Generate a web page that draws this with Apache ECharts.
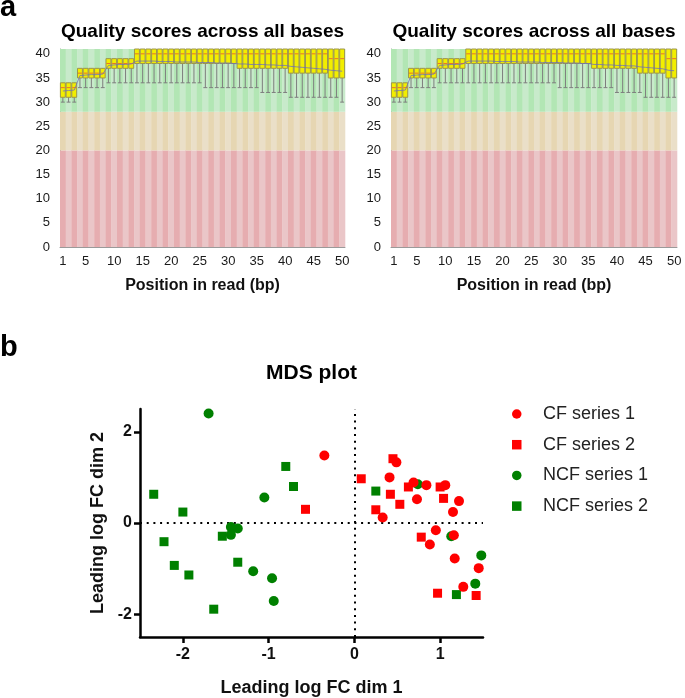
<!DOCTYPE html>
<html><head><meta charset="utf-8">
<script src="https://cdn.jsdelivr.net/npm/echarts@6/dist/echarts.min.js"></script>
<style>html,body{margin:0;padding:0;background:#fff}#c{width:685px;height:698px}</style>
</head><body><div id="c"></div>
<script>
// ---------- panel a: per-base quality (FastQC style) ----------
const positions = ['1','2','3','4','5','6','7','8','9','10','11','12','13','14','15','16','17','18','19','20',
  '21','22','23','24','25','26','27','28','29','30','31','32','33','34','35','36','37','38','39','40',
  '41','42','43','44','45','46','47','48','49','50'];
const posTickLabels = ['1','5','10','15','20','25','30','35','40','45','50'];
const qualityTicks = [0,5,10,15,20,25,30,35,40];
const zoneBounds = [0, 20, 28, 41];   // poor / reasonable / good

// left sample
const lowA  = [30,30,30,33,33,33,33,33,34,34, 34,34,34,34,34,34,34,34,34,34, 34,34,34,34,34,33,33,33,33,33, 33,33,33,33,33,32,32,32,32,32, 31,31,31,31,31,31,31,31,31,30];
const q1A   = [31,31,31,35,35,35,35,35,37,37, 37,37,37,38,38,38,38,38,38,38, 38,38,38,38,38,38,38,38,38,38, 38,37,37,37,37,37,37,37,37,37, 36,36,36,36,36,36,36,35,35,35];
const medA  = [33,33,33,36,36,36,36,36,38,38, 38,38,38,40,40,40,40,40,40,40, 40,40,40,40,40,40,40,40,40,40, 40,40,40,40,40,40,40,40,40,40, 40,40,40,40,40,40,40,39,39,39];
const q3A   = [34,34,34,37,37,37,37,37,39,39, 39,39,39,41,41,41,41,41,41,41, 41,41,41,41,41,41,41,41,41,41, 41,41,41,41,41,41,41,41,41,41, 41,41,41,41,41,41,41,41,41,41];
const highA = [34,34,34,37,37,37,37,37,39,39, 39,39,39,41,41,41,41,41,41,41, 41,41,41,41,41,41,41,41,41,41, 41,41,41,41,41,41,41,41,41,41, 41,41,41,41,41,41,41,41,41,41];
const meanA = [32.3,32.4,32.5,35.5,35.6,35.7,35.7,35.8,37.6,37.7, 37.8,37.8,37.9,38.5,38.5,38.5,38.5,38.4,38.4,38.4,
  38.3,38.3,38.3,38.3,38.2,38.2,38.2,38.1,38.1,38.1, 38.0,37.9,37.9,37.8,37.8,37.8,37.7,37.7,37.6,37.6,
  37.4,37.3,37.2,37.1,37.0,36.9,36.8,36.6,36.5,36.4];

// right sample
const lowB  = [30,30,30,33,33,33,33,33,34,34, 34,34,34,34,34,34,34,34,34,34, 34,34,34,34,34,34,34,34,34,33, 33,33,33,33,33,33,33,33,33,32, 32,32,32,32,31,31,31,31,31,31];
const q1B   = [31,31,31,35,35,35,35,35,37,37, 37,37,37,38,38,38,38,38,38,38, 38,38,38,38,38,38,38,38,38,38, 38,38,38,38,38,37,37,37,37,37, 37,37,37,36,36,36,36,36,35,35];
const medB  = [33,33,33,36,36,36,36,36,38,38, 38,38,38,40,40,40,40,40,40,40, 40,40,40,40,40,40,40,40,40,40, 40,40,40,40,40,40,40,40,40,40, 40,40,40,40,40,40,40,40,39,39];
const q3B   = [34,34,34,37,37,37,37,37,39,39, 39,39,39,41,41,41,41,41,41,41, 41,41,41,41,41,41,41,41,41,41, 41,41,41,41,41,41,41,41,41,41, 41,41,41,41,41,41,41,41,41,41];
const highB = [34,34,34,37,37,37,37,37,39,39, 39,39,39,41,41,41,41,41,41,41, 41,41,41,41,41,41,41,41,41,41, 41,41,41,41,41,41,41,41,41,41, 41,41,41,41,41,41,41,41,41,41];
const meanB = [32.3,32.4,32.5,35.5,35.6,35.7,35.7,35.8,37.6,37.7, 37.8,37.8,37.9,38.5,38.5,38.5,38.5,38.5,38.4,38.4,
  38.4,38.4,38.3,38.3,38.3,38.3,38.2,38.2,38.2,38.2, 38.1,38.1,38.1,38.0,38.0,37.8,37.8,37.7,37.7,37.6,
  37.6,37.5,37.5,37.3,37.2,37.1,37.0,36.9,36.6,36.5];

// ---------- panel b: MDS plot ----------
const cfSeries1 = [[-0.35,1.48],[0.49,1.33],[0.41,1.00],[0.69,0.89],[0.84,0.83],[1.06,0.83],[0.73,0.52],[1.22,0.48],
  [1.15,0.24],[0.33,0.12],[0.95,-0.16],[0.88,-0.47],[1.16,-0.27],[1.17,-0.78],[1.45,-0.99],[1.27,-1.40]];
const cfSeries2 = [[-0.57,0.30],[0.08,0.97],[0.45,1.41],[0.42,0.63],[0.63,0.79],[1.00,0.79],[1.04,0.54],[0.53,0.41],
  [0.25,0.29],[0.78,-0.31],[0.97,-1.54],[1.42,-1.59]];
const ncfSeries1 = [[-1.70,2.40],[-1.05,0.56],[-1.44,-0.09],[-1.36,-0.12],[-1.44,-0.26],[-1.18,-1.06],[-0.96,-1.21],
  [-0.94,-1.71],[0.74,0.85],[1.13,-0.29],[1.48,-0.71],[1.41,-1.33]];
const ncfSeries2 = [[-2.34,0.63],[-2.00,0.24],[-2.22,-0.41],[-2.10,-0.93],[-1.93,-1.14],[-1.64,-1.89],[-1.54,-0.29],
  [-1.36,-0.86],[-0.80,1.24],[-0.71,0.80],[0.25,0.70],[1.19,-1.57]];
const mdsXTicks = [-2,-1,0,1];
const mdsYTicks = [-2,0,2];
const seriesNames = ['CF series 1','CF series 2','NCF series 1','NCF series 2'];

// ---------- styles ----------
const FONT = '"Liberation Sans", Arial, Helvetica, sans-serif';
const zoneFill = [['#e6adb0','#eac6c8'], ['#e6d6b2','#eadfc8'], ['#b2e6b4','#c8eacb']];

function renderZones(params, api) {
  const i = api.value(0);
  const w = api.size([1, 0])[0];
  const cx = api.coord([i, 0])[0];
  const children = [];
  for (let z = 0; z < zoneBounds.length - 1; z++) {
    const yTop = api.coord([i, zoneBounds[z + 1]])[1];
    const yBot = api.coord([i, zoneBounds[z]])[1];
    children.push({type: 'rect', shape: {x: cx - w / 2, y: yTop, width: w + 0.3, height: yBot - yTop},
      style: {fill: zoneFill[z][i % 2]}});
  }
  return {type: 'group', children};
}
function renderBox(params, api) {
  const i = api.value(0);
  const cx = api.coord([i, 0])[0];
  const w = api.size([1, 0])[0] * 0.86;
  const yLow = api.coord([i, api.value(1)])[1];
  const yQ1 = api.coord([i, api.value(2)])[1];
  const yMed = api.coord([i, api.value(3)])[1];
  const yQ3 = api.coord([i, api.value(4)])[1];
  const yHigh = api.coord([i, api.value(5)])[1];
  const wc = '#7e7e7e';
  return {type: 'group', children: [
    {type: 'line', shape: {x1: cx, y1: yLow, x2: cx, y2: yHigh}, style: {stroke: wc, lineWidth: 1}},
    {type: 'line', shape: {x1: cx - w * 0.4, y1: yLow, x2: cx + w * 0.4, y2: yLow}, style: {stroke: wc, lineWidth: 1}},
    {type: 'rect', shape: {x: cx - w / 2, y: yQ3, width: w, height: yQ1 - yQ3}, style: {fill: '#f2ee00', stroke: '#9c964e', lineWidth: 1}},
    {type: 'line', shape: {x1: cx - w / 2 + 0.5, y1: yMed, x2: cx + w / 2 - 0.5, y2: yMed}, style: {stroke: '#e8742a', lineWidth: 1}}
  ]};
}
function boxData(low, q1, med, q3, high) {
  return positions.map((p, i) => [i, low[i], q1[i], med[i], q3[i], high[i]]);
}

const chart = echarts.init(document.getElementById('c'), null, {renderer: 'canvas'});

const grids = [
  {left: 60, top: 49, width: 285, height: 198, outerBoundsMode: 'none'},
  {left: 391, top: 49, width: 286, height: 198, outerBoundsMode: 'none'},
  {left: 140, top: 409, width: 343, height: 228, outerBoundsMode: 'none'}
];
function qualX(gi) {
  return {type: 'category', gridIndex: gi, data: positions, boundaryGap: true,
    axisLine: {show: true, lineStyle: {color: '#9a9a9a', width: 1}},
    axisTick: {show: false},
    axisLabel: {interval: (idx, val) => posTickLabels.indexOf(val) >= 0, fontSize: 13, color: '#1a1a1a', fontFamily: FONT, margin: 8},
    name: 'Position in read (bp)', nameLocation: 'middle', nameGap: 31,
    nameTextStyle: {fontSize: 16, fontWeight: 'bold', color: '#111', fontFamily: FONT},
    splitLine: {show: false}};
}
function qualY(gi) {
  return {type: 'value', gridIndex: gi, min: 0, max: 41, interval: 5,
    axisLine: {show: true, lineStyle: {color: '#9a9a9a', width: 1}},
    axisTick: {show: false},
    axisLabel: {customValues: qualityTicks, fontSize: 13, color: '#1a1a1a', fontFamily: FONT, margin: 10},
    splitLine: {show: false}};
}
const mdsAxisLine = {show: true, onZero: false, lineStyle: {color: '#000', width: 2.5}};
const mdsTick = (vals) => ({show: true, length: 6, inside: false, customValues: vals, lineStyle: {color: '#000', width: 2.5}});

const series = [];
[[0, boxData(lowA, q1A, medA, q3A, highA), meanA], [1, boxData(lowB, q1B, medB, q3B, highB), meanB]].forEach(([gi, bd, mean]) => {
  series.push({type: 'custom', xAxisIndex: gi, yAxisIndex: gi, renderItem: renderZones, data: positions.map((p, i) => [i]),
    encode: {x: 0}, z: 1, silent: true, clip: false});
  series.push({type: 'custom', xAxisIndex: gi, yAxisIndex: gi, renderItem: renderBox, data: bd,
    encode: {x: 0, y: [1, 2, 3, 4, 5]}, z: 2, silent: true});
  series.push({type: 'line', xAxisIndex: gi, yAxisIndex: gi, data: mean, symbol: 'none', z: 3, silent: true,
    lineStyle: {color: '#6a6cc0', width: 1, opacity: 0.75}});
});
const mdsData = [cfSeries1, cfSeries2, ncfSeries1, ncfSeries2];
const mdsColor = ['#ff0000', '#ff0000', '#008000', '#008000'];
const mdsSymbol = ['circle', 'rect', 'circle', 'rect'];
const mdsSize = [10, 9, 10, 9];
mdsData.forEach((d, k) => {
  const s = {type: 'scatter', name: seriesNames[k], xAxisIndex: 2, yAxisIndex: 2, data: d,
    symbol: mdsSymbol[k], symbolSize: mdsSize[k], itemStyle: {color: mdsColor[k], opacity: 1}, z: k < 2 ? 5 : 4};
  if (k === 2) {
    s.markLine = {silent: true, symbol: ['none', 'none'], label: {show: false}, z: 3,
      lineStyle: {color: '#000', type: [2, 4.7], width: 2, cap: 'butt'},
      emphasis: {disabled: true},
      data: [{xAxis: 0}, {yAxis: 0}]};
  }
  series.push(s);
});

chart.setOption({
  animation: false,
  backgroundColor: '#fff',
  textStyle: {fontFamily: FONT},
  grid: grids,
  xAxis: [qualX(0), qualX(1), {
    type: 'value', gridIndex: 2, min: -2.5, max: 1.5,
    axisLine: mdsAxisLine, axisTick: mdsTick(mdsXTicks),
    axisLabel: {customValues: mdsXTicks, fontSize: 16, fontWeight: 'bold', color: '#111', fontFamily: FONT, margin: 10},
    splitLine: {show: false},
    name: 'Leading log FC dim 1', nameLocation: 'middle', nameGap: 42,
    nameTextStyle: {fontSize: 18, fontWeight: 'bold', color: '#111', fontFamily: FONT}}],
  yAxis: [qualY(0), qualY(1), {
    type: 'value', gridIndex: 2, min: -2.5, max: 2.5,
    axisLine: mdsAxisLine, axisTick: mdsTick(mdsYTicks),
    axisLabel: {customValues: mdsYTicks, fontSize: 16, fontWeight: 'bold', color: '#111', fontFamily: FONT, margin: 8},
    splitLine: {show: false},
    name: 'Leading log FC dim 2', nameLocation: 'middle', nameGap: 31,
    nameTextStyle: {fontSize: 18, fontWeight: 'bold', color: '#111', fontFamily: FONT}}],
  legend: {orient: 'vertical', left: 512, top: 404, padding: 0, itemWidth: 9.5, itemHeight: 9.5, itemGap: 10.7,
    data: seriesNames, selectedMode: false,
    textStyle: {fontSize: 18, color: '#222', fontFamily: FONT, lineHeight: 20, padding: [0, 0, 0, 16.5]}},
  graphic: [
    {type: 'text', x: 0, y: 8, style: {text: 'a', font: 'bold 29px ' + FONT, fill: '#000', align: 'left', verticalAlign: 'middle'}},
    {type: 'text', x: 0, y: 347.7, style: {text: 'b', font: 'bold 29px ' + FONT, fill: '#000', align: 'left', verticalAlign: 'middle'}},
    {type: 'text', x: 202.5, y: 31.5, style: {text: 'Quality scores across all bases', font: 'bold 19px ' + FONT, fill: '#000', align: 'center', verticalAlign: 'middle'}},
    {type: 'text', x: 534, y: 31.5, style: {text: 'Quality scores across all bases', font: 'bold 19px ' + FONT, fill: '#000', align: 'center', verticalAlign: 'middle'}},
    {type: 'text', x: 311.5, y: 373.5, style: {text: 'MDS plot', font: 'bold 21px ' + FONT, fill: '#000', align: 'center', verticalAlign: 'middle'}}
  ],
  series: series
});
</script></body></html>
